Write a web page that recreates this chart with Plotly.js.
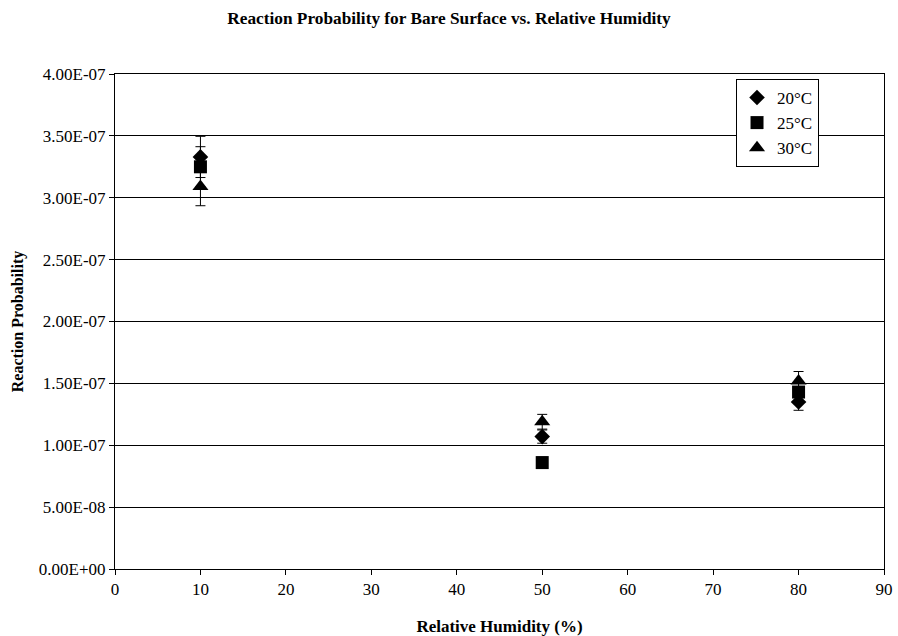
<!DOCTYPE html>
<html>
<head>
<meta charset="utf-8">
<script src="https://cdn.plot.ly/plotly-3.0.1.min.js"></script>
<style>html,body{margin:0;padding:0;background:#fff;}#chart{width:898px;height:636px;}</style>
</head>
<body>
<div id="chart"></div>
<script>
const humidity = [10, 50, 80];
const seriesNames = ["20°C", "25°C", "30°C"];
const prob20 = [3.33e-7, 1.07e-7, 1.35e-7];
const prob25 = [3.25e-7, 0.86e-7, 1.43e-7];
const prob30 = [3.09e-7, 1.19e-7, 1.52e-7];
const errorPercent = 5;
const yTickVals = [0, 5e-8, 1e-7, 1.5e-7, 2e-7, 2.5e-7, 3e-7, 3.5e-7, 4e-7];
const yTickText = ["0.00E+00", "5.00E-08", "1.00E-07", "1.50E-07", "2.00E-07", "2.50E-07", "3.00E-07", "3.50E-07", "4.00E-07"];

const font = "Liberation Serif, Times New Roman, serif";
const symbols = ["diamond", "square", "triangle-up"];
const sizes = [12, 13, 14];
const data = [prob20, prob25, prob30].map((ys, i) => ({
  type: "scatter",
  mode: "markers",
  name: seriesNames[i],
  x: humidity,
  y: ys,
  marker: {symbol: symbols[i], size: sizes[i], color: "#000"},
  error_y: {type: "percent", value: errorPercent, color: "#000", thickness: 1, width: 5},
  cliponaxis: false
}));

const layout = {
  width: 898, height: 636,
  margin: {l: 115, r: 14, t: 74, b: 67},
  paper_bgcolor: "#fff", plot_bgcolor: "#fff",
  font: {family: font, color: "#000", size: 17},
  title: {text: "<b>Reaction Probability for Bare Surface vs. Relative Humidity</b>", font: {family: font, size: 17.3, color: "#000"}, x: 0.5, xanchor: "center", y: 0.972, yanchor: "middle"},
  xaxis: {
    range: [0, 90], dtick: 10, tick0: 0,
    showline: true, linecolor: "#000", linewidth: 1, mirror: true,
    showgrid: false, zeroline: false,
    ticks: "outside", ticklen: 5, tickcolor: "#000",
    tickfont: {family: font, size: 17},
    title: {text: "<b>Relative Humidity (%)</b>", font: {family: font, size: 17}, standoff: 22}
  },
  yaxis: {
    range: [0, 4e-7],
    tickvals: yTickVals, ticktext: yTickText,
    showline: true, linecolor: "#000", linewidth: 1, mirror: true,
    showgrid: true, gridcolor: "#000", gridwidth: 1, zeroline: false,
    ticks: "outside", ticklen: 5, tickcolor: "#000",
    tickfont: {family: font, size: 17},
    title: {text: "<b>Reaction Probability</b>", font: {family: font, size: 16}, standoff: 11}
  },
  showlegend: true,
  legend: {
    x: 0.9155, y: 0.99, xanchor: "right", yanchor: "top",
    bgcolor: "#fff", bordercolor: "#000", borderwidth: 1,
    font: {family: font, size: 17, color: "#000"},
    itemwidth: 30, tracegroupgap: 0
  }
};

Plotly.newPlot("chart", data, layout, {staticPlot: true});
</script>
</body>
</html>
